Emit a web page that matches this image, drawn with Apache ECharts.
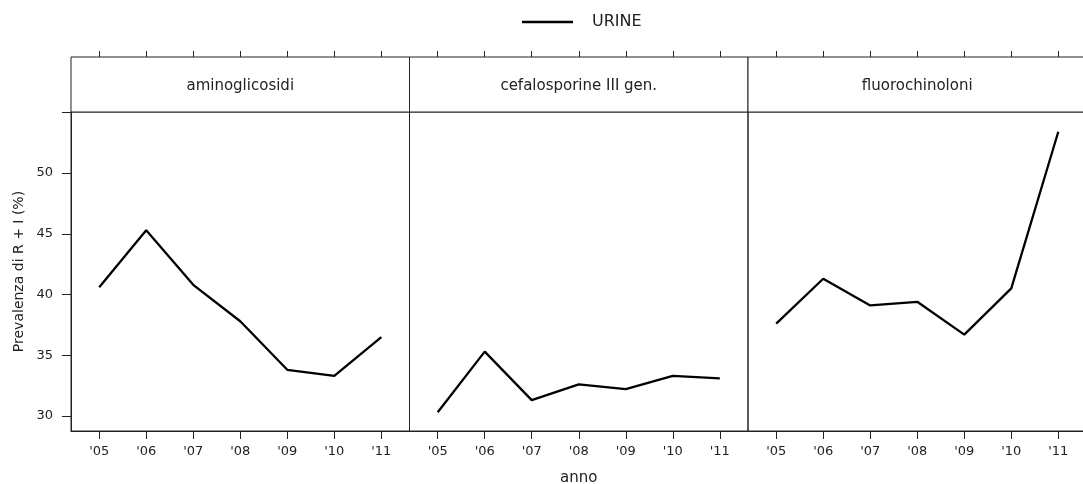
<!DOCTYPE html>
<html>
<head>
<meta charset="utf-8">
<script src="https://cdn.jsdelivr.net/npm/echarts@6/dist/echarts.min.js"></script>
<style>
  html, body { margin: 0; padding: 0; background: #fff; }
  #chart { width: 1083px; height: 484px; }
</style>
</head>
<body>
<div id="chart"></div>
<script>
// Years on the x axis (2005..2011) and their tick labels
const years = [5, 6, 7, 8, 9, 10, 11];
const yearLabels = ["'05", "'06", "'07", "'08", "'09", "'10", "'11"];

// Panel titles (antibiotic classes)
const panels = ['aminoglicosidi', 'cefalosporine III gen.', 'fluorochinoloni'];

// Prevalence of R + I (%) in urine samples, one array per panel
const aminoglicosidi = [40.6, 45.3, 40.8, 37.8, 33.8, 33.3, 36.5];
const cefalosporine = [30.3, 35.3, 31.3, 32.6, 32.2, 33.3, 33.1];
const fluorochinoloni = [37.6, 41.3, 39.1, 39.4, 36.7, 40.5, 53.4];

// y axis ticks and the ones that carry a label
const yTicks = [30, 35, 40, 45, 50, 55];
const yLabelTicks = [30, 35, 40, 45, 50];

const seriesValues = [aminoglicosidi, cefalosporine, fluorochinoloni];

const FONT = '"DejaVu Sans", Verdana, sans-serif';
const INK = '#222';
const panelTop = 112;
const panelHeight = 319;
const stripTop = 57;
const panelLefts = [71, 409.5, 748];
const panelWidth = 338.5;
const xMin = 4.4, xMax = 11.6;
const yMin = 28.76, yMax = 55.03;

const chart = echarts.init(document.getElementById('chart'), null, { renderer: 'canvas' });

const grids = panelLefts.map(l => ({
  left: l, top: panelTop, width: panelWidth, height: panelHeight,
  show: true, borderColor: INK, borderWidth: 1,
  containLabel: false, outerBoundsMode: 'none'
}));
// thin helper grids just above the strips, carrying the top tick marks
panelLefts.forEach(l => {
  grids.push({
    left: l, top: stripTop - 6, width: panelWidth, height: 6,
    show: false, containLabel: false, outerBoundsMode: 'none'
  });
});

const xAxes = [];
panelLefts.forEach((l, i) => {
  xAxes.push({
    type: 'value', gridIndex: i, min: xMin, max: xMax, position: 'bottom',
    axisLine: { show: true, onZero: false, lineStyle: { color: INK, width: 1 } },
    axisTick: { show: true, length: 8, lineStyle: { color: INK }, customValues: years },
    axisLabel: {
      show: true, margin: 14, color: INK, fontFamily: FONT, fontSize: 13,
      customValues: years,
      formatter: v => yearLabels[years.indexOf(Math.round(v))] || ''
    },
    splitLine: { show: false },
    name: i === 1 ? 'anno' : '',
    nameLocation: 'middle', nameGap: 40,
    nameTextStyle: { color: INK, fontFamily: FONT, fontSize: 15 }
  });
});
panelLefts.forEach((l, i) => {
  xAxes.push({
    type: 'value', gridIndex: 3 + i, min: xMin, max: xMax, position: 'bottom',
    axisLine: { show: false },
    axisTick: { show: true, inside: true, length: 6, lineStyle: { color: INK }, customValues: years },
    axisLabel: { show: false },
    splitLine: { show: false }
  });
});

const yAxes = [];
panelLefts.forEach((l, i) => {
  yAxes.push({
    type: 'value', gridIndex: i, min: yMin, max: yMax,
    axisLine: { show: i === 0, lineStyle: { color: INK } },
    axisTick: { show: i === 0, length: 9, lineStyle: { color: INK }, customValues: yTicks },
    axisLabel: {
      show: i === 0, margin: 18, color: INK, fontFamily: FONT, fontSize: 13,
      customValues: yLabelTicks
    },
    splitLine: { show: false },
    name: i === 0 ? 'Prevalenza di R + I (%)' : '',
    nameLocation: 'middle', nameGap: 45, nameRotate: 90,
    nameTextStyle: { color: INK, fontFamily: FONT, fontSize: 14 }
  });
});
panelLefts.forEach((l, i) => {
  yAxes.push({ type: 'value', gridIndex: 3 + i, min: 0, max: 1, show: false });
});

const series = seriesValues.map((vals, i) => ({
  name: 'URINE', type: 'line', xAxisIndex: i, yAxisIndex: i,
  data: vals.map((v, k) => [years[k], v]),
  symbol: 'none', silent: true,
  lineStyle: { color: '#000', width: 2.3 },
  itemStyle: { color: '#000' }
}));

// strip boxes with the panel titles
const graphics = [];
panelLefts.forEach((l, i) => {
  graphics.push({
    type: 'rect', shape: { x: l, y: stripTop, width: panelWidth, height: panelTop - stripTop },
    style: { fill: '#fff', stroke: INK, lineWidth: 1 }, silent: true, z: 0
  });
  graphics.push({
    type: 'text', x: l + panelWidth / 2, y: 86,
    style: { text: panels[i], fill: INK, font: '15px ' + FONT, textAlign: 'center', textVerticalAlign: 'middle' },
    silent: true, z: 1
  });
});

chart.setOption({
  animation: false,
  backgroundColor: '#fff',
  legend: {
    data: ['URINE'], left: 517, top: 9,
    icon: 'rect', itemWidth: 51, itemHeight: 2.5,
    textStyle: { color: INK, fontFamily: FONT, fontSize: 16, padding: [0, 0, 0, 14] },
    selectedMode: false
  },
  grid: grids,
  xAxis: xAxes,
  yAxis: yAxes,
  series: series,
  graphic: graphics
});
</script>
</body>
</html>
